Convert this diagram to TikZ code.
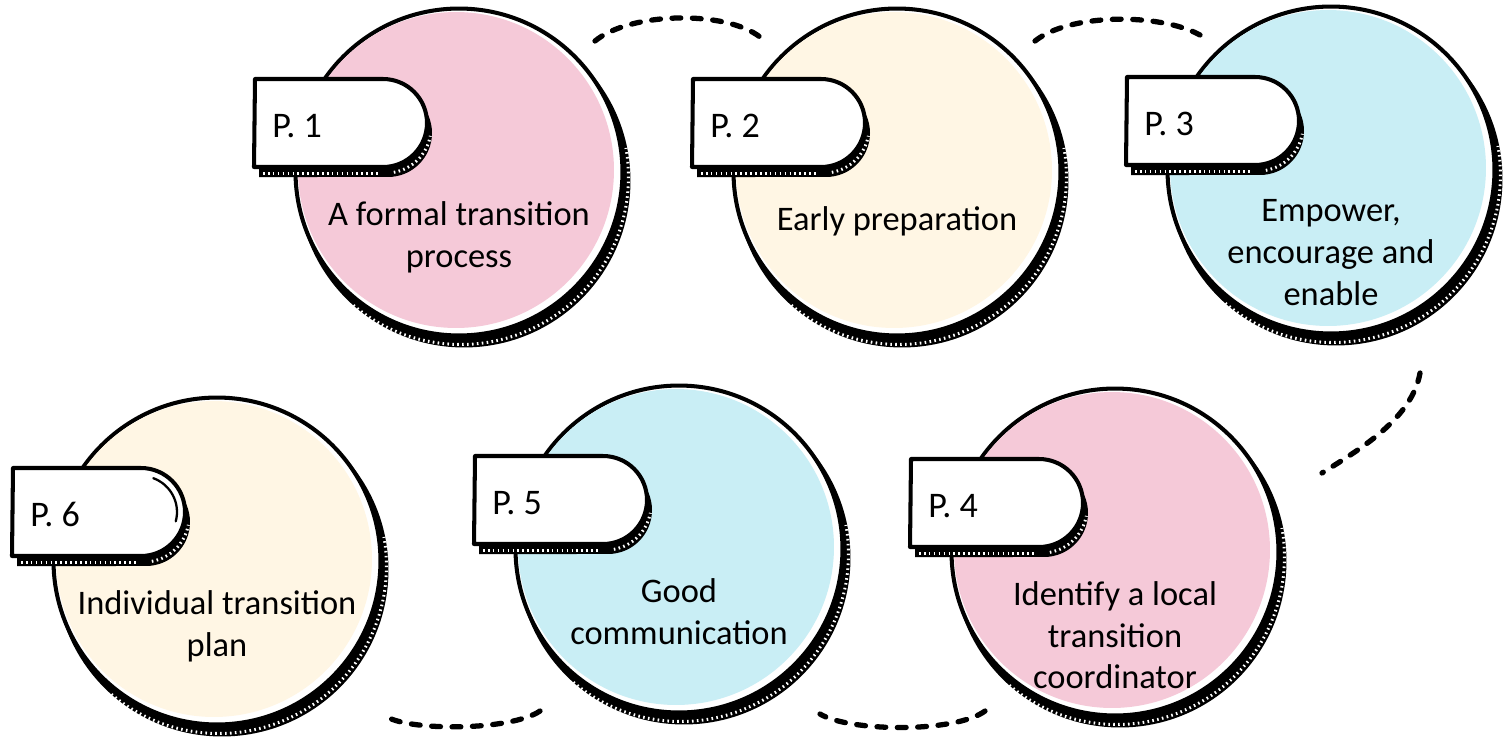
\documentclass[tikz,border=0pt]{standalone}
\usepackage{fontspec}
\setmainfont{Carlito}
\usetikzlibrary{calc}
\definecolor{tlpink}{RGB}{245,201,216}
\definecolor{tlcream}{RGB}{255,246,228}
\definecolor{tlblue}{RGB}{201,238,245}

\begin{document}
\begin{tikzpicture}[x=0.02cm, y=-0.02cm,
  disc/.style={circle, draw=black, line width=2.3pt, fill=white, minimum size=6.54cm, inner sep=0pt},
  discfill/.style={circle, minimum size=6.32cm, inner sep=0pt},
  discshadow/.style={circle, fill=black, minimum size=6.66cm, inner sep=0pt},
  hatch/.style={draw=white, line width=1.7pt, dash pattern=on 0.9pt off 1.9pt},
  tabbox/.style={draw=black, line width=2.3pt, fill=white, line join=round},
  tablabel/.style={anchor=base west, font=\fontsize{20.5}{24}\selectfont, inner sep=0pt},
  body/.style={anchor=north, align=center, font=\fontsize{19.6}{23.8}\selectfont, inner sep=0pt,
    execute at begin node=\strut},
  link/.style={line width=3pt, line cap=round, dash pattern=on 5pt off 6.6pt}]
  \fill[white] (0,0) rectangle (1504,738);
  \useasboundingbox (0,0) rectangle (1504,738);

  % discs with their tabs
  \foreach \n/\x/\y/\col/\txt in {
      1/459/172/tlpink/{A formal transition\\process},
      2/897/172/tlcream/{Early preparation},
      3/1331/170/tlblue/{Empower,\\encourage and\\enable},
      4/1115/552/tlpink/{Identify a local\\transition\\coordinator},
      5/679/549/tlblue/{Good\\communication},
      6/217/561/tlcream/{Individual transition\\plan}}{
    \node[discshadow] (s\n) at (\x+5,\y+9) {};
    \draw[hatch] (\x+2,\y+5) ++(-130:3.35cm) arc[start angle=-130, end angle=10, radius=3.35cm];
    \node[disc] (c\n) at (\x,\y) {};
    \node[discfill, fill=\col] (f\n) at (\x-3,\y-2) {};
    % tab
    \fill[black] (\x-199,\y-83) -- (\x-71,\y-83) arc[start angle=90, end angle=-90, radius=0.88cm] -- (\x-200,\y+5) -- cycle;
    \draw[hatch] (\x-196,\y+1) -- (\x-80,\y+1);
    \draw[hatch] (\x-73,\y-44) ++(-80:0.9cm) arc[start angle=-80, end angle=-10, radius=0.9cm];
    \draw[tabbox] (\x-204,\y-93) -- (\x-76,\y-93) arc[start angle=90, end angle=-90, radius=0.88cm] -- (\x-205,\y-5) -- cycle;
    \node[tablabel] (p\n) at (\x-187,\y-35) {P. \n};
    \node[body] (t\n) at (\x,\y+29) {\txt};
  }
  \draw[line width=1.3pt, line cap=round] (141,512) ++(70:0.72cm) arc[start angle=70, end angle=-15, radius=0.72cm];

  % dashed links
  \draw[link] ($(c1)+(136,-131)$) .. controls +(35,-29) and +(-35,-27) .. ($(c2)+(-137,-135)$);
  \draw[link] ($(c2)+(138,-131)$) .. controls +(35,-28) and +(-40,-22) .. ($(c3)+(-131,-135)$);
  \draw[link] ($(c3)+(89,203)$) .. controls +(-8,45) and +(40,-25) .. ($(c4)+(207,-79)$);
  \draw[link] ($(c4)+(-130,159)$) .. controls +(-30,22) and +(30,18) .. ($(c5)+(141,165)$);
  \draw[link] ($(c5)+(-139,162)$) .. controls +(-30,20) and +(25,14) .. ($(c6)+(170,156)$);
\end{tikzpicture}
\end{document}
